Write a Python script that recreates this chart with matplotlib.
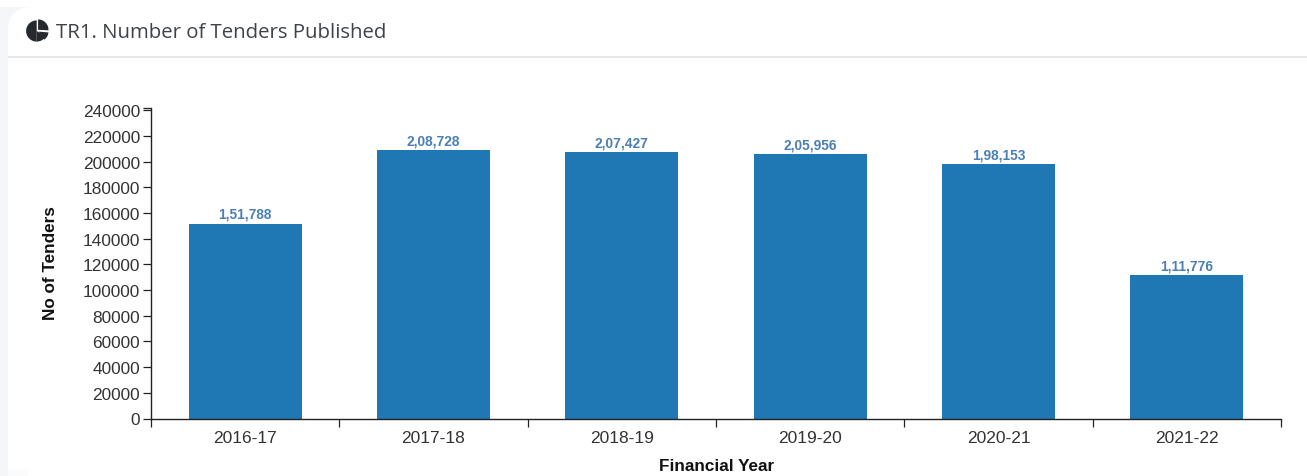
#!/usr/bin/env python3

import matplotlib
matplotlib.use('Agg')
import matplotlib.pyplot as plt
from matplotlib.patches import FancyBboxPatch, Rectangle, Wedge
from matplotlib.ticker import FixedLocator, NullFormatter

years = ['2016-17', '2017-18', '2018-19', '2019-20', '2020-21', '2021-22']
tenders = [151788, 208728, 207427, 205956, 198153, 111776]
tender_labels = ['1,51,788', '2,08,728', '2,07,427', '2,05,956', '1,98,153', '1,11,776']
y_ticks = list(range(0, 240001, 20000))
y_top = 241800  # axis line runs a little past the last tick

W, H = 1307, 477
plt.rcParams['font.family'] = ['Liberation Sans', 'DejaVu Sans']

fig = plt.figure(figsize=(W / 100, H / 100), dpi=100, facecolor='white')

# page layer in pixel coordinates: card, header rule, icon, title
bg = fig.add_axes([0, 0, 1, 1], zorder=0)
bg.set_xlim(0, W)
bg.set_ylim(H, 0)
bg.axis('off')
bg.add_patch(Rectangle((0, 8), W, H, fc='#f5f6f8', ec='none'))
bg.add_patch(FancyBboxPatch((8 + 24, 8 + 24), W - 8 - 24, H + 50, boxstyle='round,pad=24,rounding_size=24',
                            fc='white', ec='none'))
bg.add_patch(Rectangle((8, 470), 20, 10, fc='#fbfbfb', ec='none'))
bg.plot([8, W], [58, 58], color='#e3e3e3', lw=1.2, solid_capstyle='butt')

# pie icon, drawn in a small y-up axes so the wedge angles read normally
icon = fig.add_axes([25.5 / W, 1 - 44 / H, 24 / W, 24 / H], zorder=1)
icon.set_xlim(-12, 12)
icon.set_ylim(-12, 12)
icon.axis('off')
icon_color = '#262a2e'
icon.add_patch(Wedge((-0.8, 0), 10.6, 90, 270, fc=icon_color, ec='none'))
icon.add_patch(Wedge((-0.8, 0), 10.6, 270, 330, fc=icon_color, ec='none'))
icon.add_patch(Wedge((0.6, 1.2), 10.4, -3, 90, fc=icon_color, ec='none'))
icon.add_patch(Wedge((1.2, -0.6), 9.8, 305, 355, fc=icon_color, ec='none'))

bg.text(56, 32.5, 'TR1. Number of Tenders Published', fontsize=14.65, family=['Open Sans', 'DejaVu Sans'],
        color='#3f4347', va='center', ha='left')

# bar chart
ax = fig.add_axes([151 / W, 1 - 419.5 / H, (1281 - 151) / W, (419.5 - 109) / H], zorder=2)
ax.patch.set_alpha(0)
xpos = [i + 0.5 for i in range(len(years))]
ax.bar(xpos, tenders, width=0.6, color='#1f77b4')
ax.set_xlim(0, len(years))
ax.set_ylim(0, y_top)

for x, v, s in zip(xpos, tenders, tender_labels):
    ax.annotate(s, (x, v), xytext=(0, 2), textcoords='offset points', ha='center', va='bottom',
                fontsize=9.9, fontweight='bold', color='#4a7fb5')

ax.spines['top'].set_visible(False)
ax.spines['right'].set_visible(False)
for s in ['left', 'bottom']:
    ax.spines[s].set_linewidth(1.0)
    ax.spines[s].set_color('#222222')

ax.set_yticks(y_ticks)
ax.tick_params(axis='y', length=5.8, width=0.9, color='#222222', labelsize=12.4, labelcolor='#333333', pad=2)
# closing tick at the end of the axis line
ax.set_yticks([y_top], minor=True)
ax.tick_params(axis='y', which='minor', length=5.8, width=0.9, color='#222222')

# ticks sit on band edges, labels sit on band centres
ax.xaxis.set_major_locator(FixedLocator(list(range(len(years) + 1))))
ax.xaxis.set_major_formatter(NullFormatter())
ax.set_xticks(xpos, minor=True)
ax.set_xticklabels(years, minor=True)
ax.tick_params(axis='x', which='major', length=5.5, width=0.9, color='#222222')
ax.tick_params(axis='x', which='minor', length=0, labelsize=12.5, labelcolor='#333333', pad=8)

fig.text(717 / W, 1 - 467 / H, 'Financial Year', fontsize=12.3, fontweight='bold', color='#111111',
         ha='center', va='center')
fig.text(51 / W, 1 - 263.5 / H, 'No of Tenders', fontsize=12.3, fontweight='bold', color='#111111',
         ha='center', va='center', rotation=90)

fig.savefig('out.png', dpi=100)
